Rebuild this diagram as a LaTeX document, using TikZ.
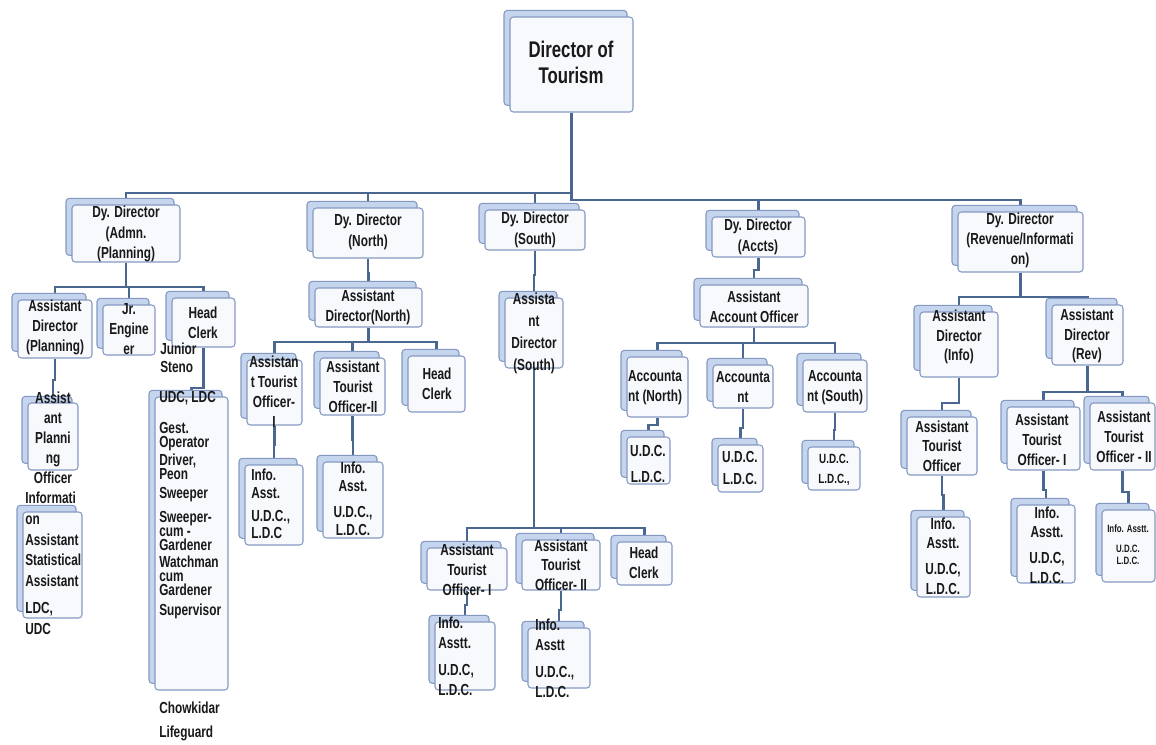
\documentclass[tikz,border=0pt]{standalone}
\usepackage{fontspec}
\setmainfont[FakeStretch=0.74, UprightFont={* Bold}]{Liberation Sans}
\usetikzlibrary{shadows,backgrounds}
\definecolor{bord}{HTML}{8499C2}
\definecolor{backf}{HTML}{C6D5EE}
\definecolor{frontf}{HTML}{F7F9FD}
\definecolor{linkc}{HTML}{4A6792}
\tikzset{
  x=0.75pt, y=-0.75pt,
  card/.style={draw=bord, line width=0.8pt, fill=frontf, rounded corners=2.5pt, inner sep=0pt,
    copy shadow={shadow xshift=-4.5pt, shadow yshift=5pt, fill=backf, draw=bord}},
  lbl/.style={inner sep=0pt, align=center, font=\fontsize{12}{15}\selectfont, text=black!90},
  lbll/.style={lbl, align=left},
  link/.style={draw=linkc, line width=2.1pt},
}
\newcommand\card[5]{\node[card, minimum width={(#4-#2)*0.75pt}, minimum height={(#5-#3)*0.75pt}] (#1) at ({(#2+#4)/2},{(#3+#5)/2}) {};}
\newcommand\elbow[3]{\coordinate (tmpb) at (0,#2); \draw[link] (#1.south) -- (#1.south |- tmpb) -| (#3.north);}
\begin{document}
\begin{tikzpicture}
\useasboundingbox (0,0) rectangle (1156,744);
% boxes
\card{dir}{510}{17}{633}{112}
\card{dA}{72}{205}{180}{262}
\card{dN}{313}{208}{423}{258}
\card{dS}{485}{210}{585}{250}
\card{dC}{712}{217}{805}{257}
\card{dR}{958}{212}{1083}{272}
% admin
\card{aP}{18}{300}{92}{358}
\card{aJ}{103}{305}{155}{355}
\card{aH}{172}{298}{235}{347}
\card{aPO}{28}{403}{78}{470}
\card{aIS}{23}{512}{82}{618}
\card{aL}{155}{397}{228}{690}
% north
\card{nA}{315}{288}{422}{327}
\card{nT1}{247}{360}{302}{425}
\card{nT2}{320}{358}{385}{415}
\card{nH}{408}{356}{465}{412}
\card{nI1}{245}{465}{303}{545}
\card{nI2}{323}{462}{383}{538}
% south
\card{sA}{505}{298}{563}{368}
\card{sT1}{427}{548}{507}{590}
\card{sT2}{522}{540}{600}{590}
\card{sH}{617}{542}{672}{585}
\card{sI1}{435}{622}{495}{690}
\card{sI2}{528}{628}{590}{688}
% accounts
\card{cA}{700}{285}{808}{327}
\card{cN}{627}{357}{688}{417}
\card{cM}{713}{365}{773}{408}
\card{cS}{803}{360}{867}{412}
\card{cNu}{627}{437}{670}{484}
\card{cMu}{718}{445}{763}{492}
\card{cSu}{808}{447}{860}{490}
% revenue
\card{rI}{920}{312}{998}{377}
\card{rR}{1052}{305}{1123}{365}
\card{rT}{907}{417}{977}{475}
\card{rTi}{917}{517}{970}{597}
\card{rT1}{1007}{407}{1080}{470}
\card{rT2}{1090}{403}{1155}{470}
\card{rI1}{1017}{505}{1075}{583}
\card{rI2}{1102}{510}{1155}{582}

% connectors
\begin{scope}[on background layer]
\elbow{dir}{193}{dA}
\elbow{dir}{193}{dN}
\elbow{dir}{193}{dS}
\elbow{dir}{200}{dC}
\elbow{dir}{200}{dR}
\elbow{dA}{287}{aP}
\elbow{dA}{287}{aJ}
\elbow{dA}{287}{aH}
\elbow{aP}{380}{aPO}
\elbow{aH}{388}{aL}
\elbow{dN}{273}{nA}
\elbow{nA}{342}{nT1}
\elbow{nA}{342}{nT2}
\elbow{nA}{342}{nH}
\elbow{nT1}{445}{nI1}
\elbow{nT2}{440}{nI2}
\elbow{dS}{275}{sA}
\elbow{sA}{528}{sT1}
\elbow{sA}{528}{sT2}
\elbow{sA}{528}{sH}
\elbow{sT1}{605}{sI1}
\elbow{sT2}{610}{sI2}
\elbow{dC}{270}{cA}
\elbow{cA}{343}{cN}
\elbow{cA}{343}{cM}
\elbow{cA}{343}{cS}
\elbow{cN}{425}{cNu}
\elbow{cM}{428}{cMu}
\elbow{cS}{430}{cSu}
\elbow{dR}{297}{rI}
\elbow{dR}{297}{rR}
\elbow{rI}{403}{rT}
\elbow{rT}{495}{rTi}
\elbow{rR}{392}{rT1}
\elbow{rR}{392}{rT2}
\elbow{rT1}{490}{rI1}
\elbow{rT2}{492}{rI2}
\end{scope}

% texts
\node[lbl, font=\fontsize{17}{19.5}\selectfont] (dirT) at (571,62) {Director of\\Tourism};
\node[lbl, font=\fontsize{12}{15.5}\selectfont] (dAT) at (126,234) {Dy. Director\\(Admn.\\(Planning)};
\node[lbl, font=\fontsize{12}{15.5}\selectfont] (dNT) at (368,232) {Dy. Director\\(North)};
\node[lbl, font=\fontsize{12}{15.5}\selectfont] (dST) at (535,230) {Dy. Director\\(South)};
\node[lbl, font=\fontsize{12}{15.5}\selectfont] (dCT) at (758,237) {Dy. Director\\(Accts)};
\node[lbl] (dRT) at (1020,240) {Dy. Director\\(Revenue/Informati\\on)};

\node[lbl] (aPT) at (55,327) {Assistant\\Director\\(Planning)};
\node[lbl] (aJT) at (129,329) {Jr.\\Engine\\er};
\node[lbl] (aHT) at (203,323) {Head\\Clerk};
\node[lbll, font=\fontsize{12}{13.5}\selectfont, anchor=north west] (jsT) at (160,343) {Junior\\Steno};
\node[lbl] (aPOT) at (53,438) {Assist\\ant\\Planni\\ng\\Officer};
\node[lbll, font=\fontsize{12}{15.5}\selectfont, anchor=north west] (aIST) at (25,492) {Informati\\on\\Assistant\\Statistical\\Assistant\\[5pt]LDC,\\UDC};
\node[lbll, font=\fontsize{12}{10.5}\selectfont, anchor=north west] (aLT) at (159,391) {UDC, LDC\\[12.75pt]Gest.\\Operator\\[1.5pt]Driver,\\Peon\\[3.5pt]Sweeper\\[6pt]Sweeper-\\cum -\\Gardener\\[2.25pt]Watchman\\cum\\Gardener\\[4.5pt]Supervisor};
\node[lbll, font=\fontsize{12}{10.5}\selectfont, anchor=north west] (chT) at (159,702) {Chowkidar\\[7.5pt]Lifeguard};

\node[lbl] (nAT) at (368,307) {Assistant\\Director(North)};
\node[lbl] (nT1T) at (274,392) {Assistan\\t Tourist\\Officer-\\I};
\node[lbl] (nT2T) at (353,387) {Assistant\\Tourist\\Officer-II};
\node[lbl] (nHT) at (437,384) {Head\\Clerk};
\node[lbll, font=\fontsize{12}{13}\selectfont, anchor=north west] (nI1T) at (251,469) {Info.\\Asst.\\[4.5pt]U.D.C.,\\L.D.C};
\node[lbl, font=\fontsize{12}{13.5}\selectfont, anchor=north] (nI2T) at (353,462) {Info.\\Asst.\\[6pt]U.D.C.,\\L.D.C.};

\node[lbl, font=\fontsize{12}{16.5}\selectfont] (sAT) at (534,333) {Assista\\nt\\Director\\(South)};
\node[lbl] (sT1T) at (467,570) {Assistant\\Tourist\\Officer- I};
\node[lbl, font=\fontsize{12}{14.5}\selectfont] (sT2T) at (561,565) {Assistant\\Tourist\\Officer- II};
\node[lbl] (sHT) at (644,563) {Head\\Clerk};
\node[lbll, anchor=north west] (sI1T) at (438,617) {Info.\\Asstt.\\[5pt]U.D.C,\\L.D.C.};
\node[lbll, anchor=north west] (sI2T) at (535,619) {Info.\\Asstt\\[5pt]U.D.C.,\\L.D.C.};

\node[lbl] (cAT) at (754,307) {Assistant\\Account Officer};
\node[lbl] (cNT) at (655,388) {Accounta\\nt (North)};
\node[lbl] (cMT) at (743,387) {Accounta\\nt};
\node[lbl] (cST) at (835,388) {Accounta\\nt (South)};
\node[lbl, font=\fontsize{12}{19.5}\selectfont] (cNuT) at (648,464) {U.D.C.\\L.D.C.};
\node[lbl, font=\fontsize{12}{17}\selectfont] (cMuT) at (740,468) {U.D.C.\\L.D.C.};
\node[lbl, font=\fontsize{10}{15}\selectfont] (cSuT) at (834,470) {U.D.C.\\L.D.C.,};

\node[lbl, font=\fontsize{12}{14.5}\selectfont] (rIT) at (959,337) {Assistant\\Director\\(Info)};
\node[lbl, font=\fontsize{12}{14.5}\selectfont] (rRT) at (1087,336) {Assistant\\Director\\(Rev)};
\node[lbl, font=\fontsize{12}{14.5}\selectfont] (rTT) at (942,446) {Assistant\\Tourist\\Officer};
\node[lbl, font=\fontsize{12}{14.5}\selectfont] (rTiT) at (943,556) {Info.\\Asstt.\\[5pt]U.D.C,\\L.D.C.};
\node[lbl, font=\fontsize{12}{15}\selectfont] (rT1T) at (1042,440) {Assistant\\Tourist\\Officer- I};
\node[lbl, font=\fontsize{12}{15}\selectfont] (rT2T) at (1124,437) {Assistant\\Tourist\\Officer - II};
\node[lbl, font=\fontsize{12}{14.5}\selectfont] (rI1T) at (1047,545) {Info.\\Asstt.\\[5pt]U.D.C,\\L.D.C.};
\node[lbl, font=\fontsize{8}{9.5}\selectfont] (rI2T) at (1128,545) {Info. Asstt.\\[5pt]U.D.C.\\L.D.C.};
\end{tikzpicture}
\end{document}
